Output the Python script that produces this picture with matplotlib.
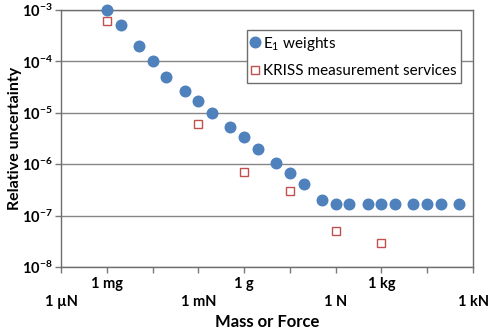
import matplotlib
matplotlib.use("Agg")
import matplotlib.pyplot as plt
import numpy as np

plt.rcParams['font.family'] = ['Lato', 'DejaVu Sans']
plt.rcParams['mathtext.fontset'] = 'custom'
plt.rcParams['mathtext.rm'] = 'Lato'
plt.rcParams['mathtext.it'] = 'Lato:italic'
plt.rcParams['mathtext.bf'] = 'Lato:bold'

# Mass in grams
e1_mass = [1e-3, 2e-3, 5e-3, 1e-2, 2e-2, 5e-2, 0.1, 0.2, 0.5, 1, 2, 5, 10, 20, 50,
           100, 200, 500, 1000, 2000, 5000, 10000, 20000, 50000]
e1_unc = [1e-3, 5e-4, 2e-4, 1e-4, 5e-5, 2.65e-5, 1.67e-5, 1e-5, 5.3e-6, 3.35e-6, 2e-6,
          1.05e-6, 6.7e-7, 4.2e-7, 2e-7,
          1.68e-7, 1.68e-7, 1.68e-7, 1.68e-7, 1.68e-7, 1.68e-7, 1.68e-7, 1.68e-7, 1.68e-7]

kriss_mass = [1e-3, 0.1, 1, 10, 100, 1000]
kriss_unc = [6e-4, 6e-6, 7e-7, 3e-7, 5e-8, 2.9e-8]

xtick_vals = [1e-4, 1e-3, 1e-2, 1e-1, 1e0, 1e1, 1e2, 1e3, 1e4, 1e5]
xtick_labels = ["\n1 µN", "1 mg", "", "\n1 mN", "1 g", "", "\n1 N", "1 kg", "", "\n1 kN"]
ytick_vals = [1e-8, 1e-7, 1e-6, 1e-5, 1e-4, 1e-3]
ytick_labels = [r'$\mathbf{10^{-%d}}$' % k for k in [8, 7, 6, 5, 4, 3]]

fig = plt.figure(figsize=(4.93, 3.35), dpi=100)
ax = fig.add_axes([61/493, 1-267/335, 412/493, 257/335])

ax.set_xscale('log')
ax.set_yscale('log')
ax.set_xlim(1e-4, 1e5)
ax.set_ylim(1e-8, 1e-3)

grid_c = '#868686'
for y in ytick_vals:
    ax.axhline(y, color=grid_c, lw=1.0, zorder=1)

ax.plot(e1_mass, e1_unc, 'o', color='#4F81BD', markersize=7.6, mec='#4F81BD',
        label='E$_{1}$ weights', zorder=3, clip_on=False)
ax.plot(kriss_mass, kriss_unc, 's', mfc='white', mec='#C0504D', markersize=5.6,
        mew=1.0, label='KRISS measurement services', zorder=4, clip_on=False)

ax.set_xticks(xtick_vals)
ax.set_xticklabels(xtick_labels, fontsize=10.5, fontweight='bold', linespacing=1.35)
ax.set_yticks(ytick_vals)
ax.set_yticklabels(ytick_labels, fontsize=10.5)
ax.minorticks_off()
ax.tick_params(axis='both', direction='out', length=4, width=1, color='#7a7a7a', pad=2)
ax.tick_params(axis='x', pad=3)

for s in ax.spines.values():
    s.set_color('#6e6e6e')
    s.set_linewidth(1.0)

ax.set_ylabel('Relative uncertainty', fontsize=11.5, fontweight='bold', labelpad=0)
ax.set_xlabel('Mass or Force', fontsize=12, fontweight='bold', labelpad=4)

leg = ax.legend(loc='upper right', bbox_to_anchor=(0.971, 0.922), fontsize=11,
                frameon=True, fancybox=False, edgecolor='#6e6e6e', framealpha=1,
                handlelength=0.5, handletextpad=0.25, borderpad=0.3, labelspacing=0.75,
                borderaxespad=0)
leg.get_frame().set_linewidth(1.0)

fig.savefig('out.png', dpi=100)
